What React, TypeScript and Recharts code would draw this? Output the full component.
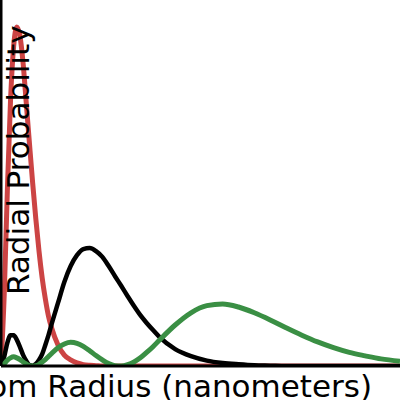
import React from 'react';
import { LineChart, Line, XAxis, YAxis } from 'recharts';

// radius samples (nm) shared by all three curves
const radiusNm = [
  0, 0.01, 0.02, 0.03, 0.04, 0.05, 0.06, 0.07, 0.08, 0.09, 0.1, 0.11, 0.12, 0.13, 0.14, 0.15, 0.16,
  0.18, 0.2, 0.22, 0.24, 0.26, 0.28, 0.3, 0.32, 0.34, 0.36, 0.38, 0.4, 0.42, 0.44, 0.46, 0.48, 0.5,
  0.55, 0.6, 0.65, 0.7, 0.75, 0.8, 0.85, 0.9, 0.95, 1.0, 1.05, 1.1, 1.15, 1.2, 1.26,
];

// 1s (red)
const prob1s = [
  0, 0.206, 0.516, 0.782, 0.944, 1.0, 0.973, 0.891, 0.773, 0.655, 0.54, 0.434, 0.339, 0.26, 0.198, 0.147, 0.112,
  0.062, 0.032, 0.018, 0.009, 0.004, 0.002, 0.001, 0, 0, 0, 0, 0, 0, 0, 0, 0, 0,
  0, 0, 0, 0, 0, 0, 0, 0, 0, 0, 0, 0, 0, 0, 0,
];

// 2s (black)
const prob2s = [
  0, 0.027, 0.068, 0.091, 0.091, 0.077, 0.056, 0.032, 0.015, 0.003, 0.001, 0.006, 0.018, 0.035, 0.062, 0.091, 0.124,
  0.186, 0.248, 0.295, 0.327, 0.345, 0.348, 0.339, 0.322, 0.295, 0.265, 0.236, 0.206, 0.177, 0.15, 0.127, 0.106, 0.086,
  0.05, 0.029, 0.016, 0.009, 0.005, 0.002, 0.001, 0, 0, 0, 0, 0, 0, 0, 0,
];

// 3s (green)
const prob3s = [
  0, 0.006, 0.017, 0.024, 0.027, 0.024, 0.019, 0.012, 0.006, 0.001, 0, 0.001, 0.005, 0.012, 0.019, 0.028, 0.037,
  0.054, 0.065, 0.07, 0.067, 0.058, 0.045, 0.031, 0.018, 0.007, 0.001, 0, 0.004, 0.012, 0.024, 0.04, 0.057, 0.076,
  0.121, 0.157, 0.178, 0.183, 0.174, 0.157, 0.136, 0.113, 0.091, 0.071, 0.054, 0.04, 0.03, 0.021, 0.014,
];

const data = radiusNm.map((r, i) => ({
  r,
  s1: prob1s[i],
  s2: prob2s[i],
  s3: prob3s[i],
}));

const labelFont = { fontFamily: 'DejaVu Sans', fontSize: 31, fill: '#000' };

// both axis titles are drawn here, under the curves
const AxisTitles = () => (
  <g>
    <text x={372} y={397} textAnchor="end" {...labelFont}>
      Atom Radius (nanometers)
    </text>
    <text x={28.5} y={295} transform="rotate(-90 28.5 295)" textAnchor="start" {...labelFont}>
      Radial Probability
    </text>
  </g>
);

export default function App() {
  return (
    <div style={{ position: 'absolute', left: 0, top: 0, width: 400, height: 400, background: '#fff' }}>
      <LineChart width={400} height={400} data={data} margin={{ top: 0, right: 0, left: 0, bottom: 0 }}>
        <XAxis
          dataKey="r"
          type="number"
          domain={[0, 1.26]}
          allowDataOverflow
          height={34}
          tick={false}
          tickLine={false}
          axisLine={{ stroke: '#000', strokeWidth: 3 }}
          label={{ content: () => <AxisTitles /> }}
        />
        <YAxis
          type="number"
          domain={[0, 1.08]}
          allowDataOverflow
          width={1}
          tick={false}
          tickLine={false}
          axisLine={{ stroke: '#000', strokeWidth: 3 }}
        />
        <Line type="monotone" dataKey="s1" stroke="#cc4444" strokeWidth={5} dot={false} isAnimationActive={false} />
        <Line type="monotone" dataKey="s2" stroke="#000000" strokeWidth={4.5} dot={false} isAnimationActive={false} />
        <Line type="monotone" dataKey="s3" stroke="#3a8f44" strokeWidth={5} dot={false} isAnimationActive={false} />
      </LineChart>
    </div>
  );
}
